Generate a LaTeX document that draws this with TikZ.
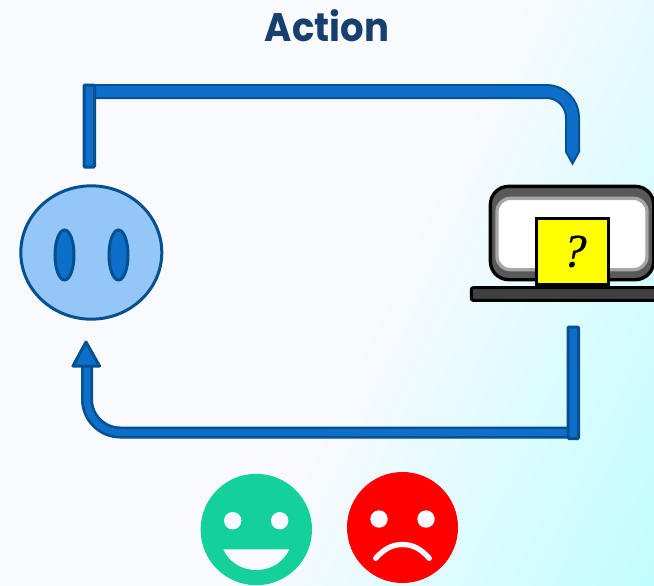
\documentclass[tikz,border=0pt]{standalone}
\usepackage{fontspec}
\usepackage{tikz}
\usetikzlibrary{shapes.geometric}
\newfontfamily\titlefont{Poppins}
\newfontfamily\queryfont[FakeSlant=0.22, FakeBold=0.6]{Liberation Serif}
\definecolor{pagebg}{HTML}{F9FAFD}
\definecolor{pagecyan}{HTML}{A0FFFF}
\definecolor{bandblue}{HTML}{0D6FC9}
\definecolor{banddark}{HTML}{05508F}
\definecolor{titleblue}{HTML}{17406F}
\definecolor{facefill}{HTML}{94C6F7}
\definecolor{happygreen}{HTML}{14D09B}
\definecolor{queryyellow}{HTML}{FFFF00}
\pgfdeclarehorizontalshading{pageshade}{100bp}{color(0bp)=(pagebg); color(54bp)=(pagebg); color(100bp)=(pagecyan)}
\tikzset{
	bandouter/.style={banddark, line width=0.45cm},
	bandcore/.style={bandblue, line width=0.33cm},
	stubband/.style={draw=banddark, fill=bandblue, line width=0.09cm, rounded corners=0.03cm},
	eyeshape/.style={ellipse, draw=banddark, fill=bandblue, line width=0.09cm, minimum width=0.57cm, minimum height=1.5cm, inner sep=0pt},
}
\begin{document}
\begin{tikzpicture}[x=0.03cm, y=-0.03cm, >=stealth]
	\useasboundingbox (0,0) rectangle (654,585);
	\clip (0,0) rectangle (654,585);
	% 1. background
	\shade[shading=pageshade, shading angle=-25] (0,0) rectangle (654,585);
	\node[font=\titlefont\bfseries\fontsize{34}{34}\selectfont, text=titleblue, xscale=0.93, inner sep=0pt] (title) at (327,26) {Action};
	
	% 2. agent face
	\node[ellipse, draw=banddark, fill=facefill, line width=0.09cm, minimum width=4.23cm, minimum height=4cm, inner sep=0pt] (face) at (91.3,252.5) {};
	\node[eyeshape] (lefteye) at (64.5,255) {};
	\node[eyeshape] (righteye) at (118.5,255) {};
	
	% 3. laptop with the hidden reward
	\node[draw=black, fill=black!65, line width=0.1cm, rounded corners=0.55cm, minimum width=4.9cm, minimum height=2.8cm, inner sep=0pt] (laptop) at (572,233) {};
	\node[draw=black!35, fill=white, line width=0.1cm, rounded corners=0.4cm, minimum width=4.5cm, minimum height=2.14cm, inner sep=0pt] (screen) at (572,234) {};
	\node[draw=black, fill=black!75, line width=0.09cm, rounded corners=0.06cm, minimum width=5.8cm, minimum height=0.38cm, inner sep=0pt] (desk) at (568,294) {};
	\node[draw=black, fill=queryyellow, line width=0.09cm, minimum width=2.14cm, minimum height=1.96cm, inner sep=0pt, font=\queryfont\fontsize{40}{40}\selectfont] (query) at (572.5,251.5) {?};
	
	% 4. action arrow
	\coordinate (actionstart) at (89,91.5);
	\coordinate (actioncorner) at (572.5,91.5);
	\coordinate (actionend) at (572.5,151);
	\draw[bandouter, rounded corners=0.78cm] (actionstart) -- (actioncorner) -- (actionend);
	\draw[bandcore, rounded corners=0.78cm] (actionstart) -- (actioncorner) -- (actionend);
	\fill[banddark] (565,150) -- (580,150) -- (580,152) -- (572.5,165.5) -- (565,152) -- cycle;
	\fill[bandblue] (567,148) -- (578,148) -- (578,151.5) -- (572.5,161) -- (567,151.5) -- cycle;
	\draw[stubband] (84,85) rectangle (94.5,167);
	
	% 5. reward arrow
	\coordinate (rewardstart) at (573,432.5);
	\coordinate (rewardcorner) at (87,432.5);
	\coordinate (rewardend) at (87,362);
	\draw[banddark, line width=0.36cm, rounded corners=1cm] (rewardstart) -- (rewardcorner) -- (rewardend);
	\draw[bandblue, line width=0.2cm, rounded corners=1cm] (rewardstart) -- (rewardcorner) -- (rewardend);
	\draw[draw=banddark, fill=bandblue, line width=0.09cm, line join=round] (86,342) -- (99.5,366) -- (73,366) -- cycle;
	\draw[stubband] (568,327) rectangle (578.5,438.5);
	
	% 6. the two outcomes
	\fill[happygreen] (256.3,529.5) circle (55.7);
	\fill[pagebg] (232.7,520.7) circle (8.7);
	\fill[pagebg] (279.7,520.7) circle (8.7);
	\fill[pagebg] (223.3,549.3) -- (289.3,549.3) .. controls (283,563) and (270,570) .. (256.3,570) .. controls (242.6,570) and (229.6,563) .. (223.3,549.3) -- cycle;
	\fill[red] (402.5,527.5) circle (55.5);
	\fill[pagebg] (379,519) circle (8.7);
	\fill[pagebg] (426,519) circle (8.7);
	\draw[pagebg, line width=0.16cm, line cap=round] (375.7,558.3) .. controls (384,549) and (392,544.5) .. (402.5,544.5) .. controls (413,544.5) and (421,549) .. (429.3,558.3);
\end{tikzpicture}
\end{document}
